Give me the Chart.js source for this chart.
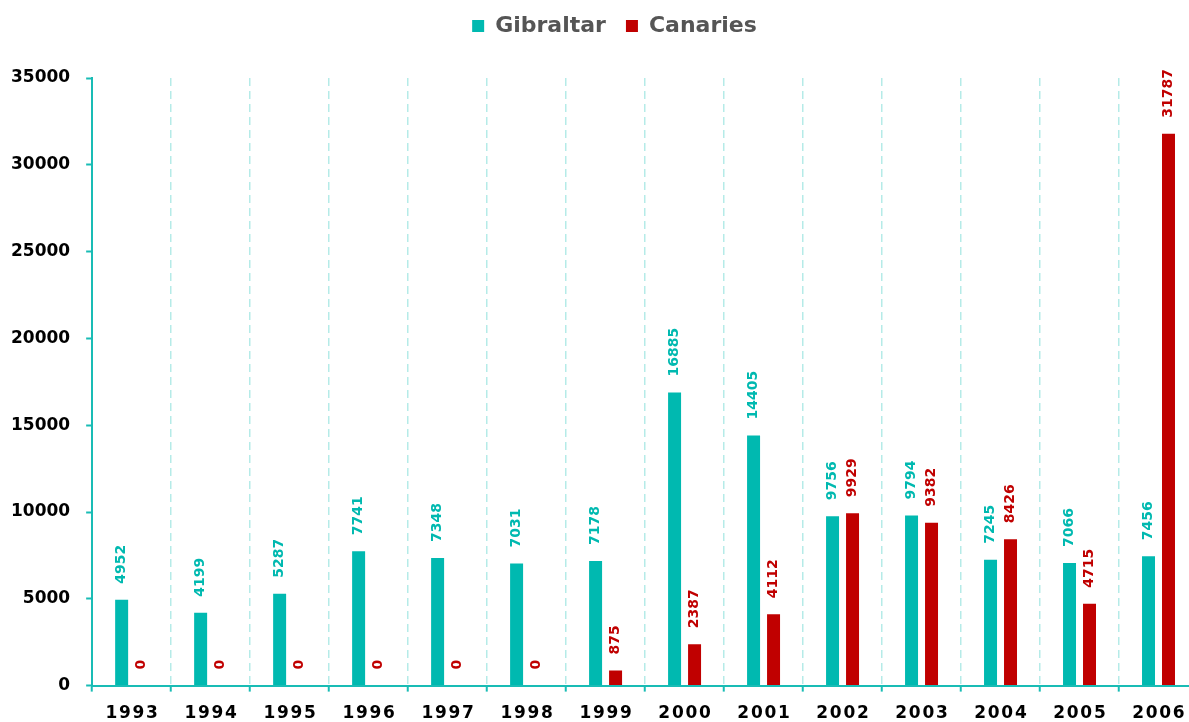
<!DOCTYPE html>
<html>
<head>
<meta charset="utf-8">
<script src="https://cdn.jsdelivr.net/npm/chart.js@4.4.1/dist/chart.umd.min.js"></script>
<style>
  html, body { margin: 0; padding: 0; background: #fff; overflow: hidden; }
  #wrap { position: relative; width: 1230px; height: 736px; }
</style>
</head>
<body>
<div id="wrap"><canvas id="c"></canvas></div>
<script>
const years = ['1993','1994','1995','1996','1997','1998','1999','2000','2001','2002','2003','2004','2005','2006'];
const gibraltar = [4952, 4199, 5287, 7741, 7348, 7031, 7178, 16885, 14405, 9756, 9794, 7245, 7066, 7456];
const canaries = [0, 0, 0, 0, 0, 0, 875, 2387, 4112, 9929, 9382, 8426, 4715, 31787];
const yTicks = [0, 5000, 10000, 15000, 20000, 25000, 30000, 35000];

const TEAL = '#00b9b0';
const RED = '#c00000';
const AXIS = '#19bcb5';
const GRID = '#b5ebe8';

const spaced = s => s.split('').join('\u200A');

const legendSpace = {
  id: 'legendSpace',
  beforeInit(chart) {
    const lg = chart.legend;
    if (!lg) return;
    const origFit = lg.fit;
    lg.fit = function () { origFit.call(this); this.height = 83; };
    const origDraw = lg.draw;
    lg.draw = function () {
      this.ctx.save();
      this.ctx.translate(18, 0);
      origDraw.call(this);
      this.ctx.restore();
    };
  }
};

const valueLabels = {
  id: 'valueLabels',
  afterDatasetsDraw(chart) {
    const ctx = chart.ctx;
    chart.data.datasets.forEach((ds, di) => {
      const meta = chart.getDatasetMeta(di);
      meta.data.forEach((el, i) => {
        ctx.save();
        ctx.translate(el.x, el.y - 16);
        ctx.rotate(-Math.PI / 2);
        ctx.font = 'bold 14px "DejaVu Sans"';
        ctx.fillStyle = ds.backgroundColor;
        ctx.textAlign = 'left';
        ctx.textBaseline = 'middle';
        ctx.fillText(String(ds.data[i]), 0, 0);
        ctx.restore();
      });
    });
  }
};

new Chart(document.getElementById('c'), {
  type: 'bar',
  data: {
    labels: years.map(spaced),
    datasets: [
      { label: 'Gibraltar', data: gibraltar, backgroundColor: TEAL, categoryPercentage: 0.506, barPercentage: 0.65 },
      { label: 'Canaries', data: canaries, backgroundColor: RED, categoryPercentage: 0.506, barPercentage: 0.65 }
    ]
  },
  options: {
    responsive: true,
    maintainAspectRatio: false,
    animation: false,
    layout: { padding: { top: -5, left: -5, right: 32, bottom: 0 } },
    plugins: {
      tooltip: { enabled: false },
      legend: {
        position: 'top',
        labels: {
          boxWidth: 12, boxHeight: 12, padding: 20,
          color: '#555555',
          font: { family: 'DejaVu Sans', size: 22, weight: 'bold' }
        }
      }
    },
    scales: {
      x: {
        offset: true,
        grid: {
          display: true, offset: true, color: GRID, lineWidth: 1.5,
          drawTicks: true, tickLength: 6, tickColor: AXIS, tickWidth: 2, tickBorderDash: []
        },
        border: { display: true, color: AXIS, width: 2, dash: [8, 5] },
        ticks: {
          color: '#000', padding: 12, maxRotation: 0, autoSkip: false,
          font: { family: 'DejaVu Sans', size: 17, weight: 'bold' }
        }
      },
      y: {
        min: 0, max: 35000,
        afterBuildTicks(scale) { scale.ticks = yTicks.map(v => ({ value: v })); },
        grid: { drawOnChartArea: false, drawTicks: true, tickLength: 6, tickColor: AXIS, tickWidth: 2 },
        border: { display: true, color: AXIS, width: 2 },
        ticks: {
          color: '#000', padding: 16,
          callback: v => String(v),
          font: { family: 'DejaVu Sans', size: 17, weight: 'bold' }
        }
      }
    }
  },
  plugins: [legendSpace, valueLabels]
});
</script>
</body>
</html>
